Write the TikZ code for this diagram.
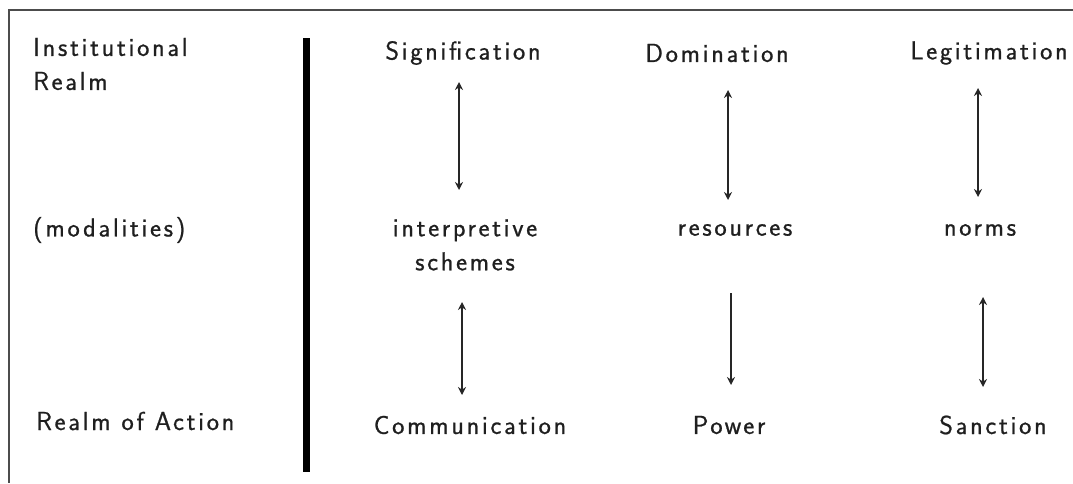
\documentclass[tikz,border=0pt]{standalone}
\usepackage{fontspec}
\newfontfamily\lblfont{Latin Modern Sans}[LetterSpace=10.5,FakeBold=0.8]
\usetikzlibrary{arrows.meta}
\begin{document}
\begin{tikzpicture}[x=1pt,y=-1pt,
  lbl/.style={font=\fontsize{26}{32}\selectfont\lblfont, inner sep=0pt, text=black!88},
  leftlbl/.style={lbl, anchor=west, align=left},
  tip/.tip={Stealth[length=8pt,width=8pt]},
  conn/.style={line width=1.5pt, black!85, arrows={-tip}},
  dconn/.style={line width=1.5pt, black!85, arrows={tip-tip}}]
\useasboundingbox (0,0) rectangle (1073,483);
% frame
\coordinate (tl) at (9,10);
\coordinate (tr) at (1073,10);
\coordinate (bl) at (9,483);
\draw[line width=1.8pt, black!70] (tr) -- (tl) -- (bl);
% thick bar
\coordinate (bt) at (306,38);
\coordinate (bb) at (306,472);
\draw[line width=7pt] (bt) -- (bb);
% left labels
\node[leftlbl] (inst) at (33,64) {Institutional\\[2pt]Realm};
\node[leftlbl] (mod) at (33,230) {(modalities)};
\node[leftlbl] (roa) at (36,421) {Realm of Action};
% columns
\node[lbl] (sig) at (463,53) {Signification};
\node[lbl] (dom) at (717,53) {Domination};
\node[lbl] (leg) at (989,53) {Legitimation};
\node[lbl, align=center] (interp) at (465,245) {interpretive\\[2pt]schemes};
\node[lbl] (res) at (735,230) {resources};
\node[lbl] (nor) at (980,230) {norms};
\node[lbl] (com) at (470,425) {Communication};
\node[lbl] (pow) at (729,425) {Power};
\node[lbl] (san) at (993,425) {Sanction};
% connectors
\draw[dconn] ([shift={(-4,29)}]sig.center) -- ([shift={(-6,-55)}]interp.center);
\draw[dconn] ([shift={(11,37)}]dom.center) -- ([shift={(-7,-30)}]res.center);
\draw[dconn] ([shift={(-11,35)}]leg.center) -- ([shift={(-2,-33)}]nor.center);
\draw[dconn] ([shift={(-3,57)}]interp.center) -- ([shift={(-8,-30)}]com.center);
\draw[conn] ([shift={(-4,63)}]res.center) -- ([shift={(2,-40)}]pow.center);
\draw[dconn] ([shift={(3,67)}]nor.center) -- ([shift={(-10,-38)}]san.center);
\end{tikzpicture}
\end{document}
